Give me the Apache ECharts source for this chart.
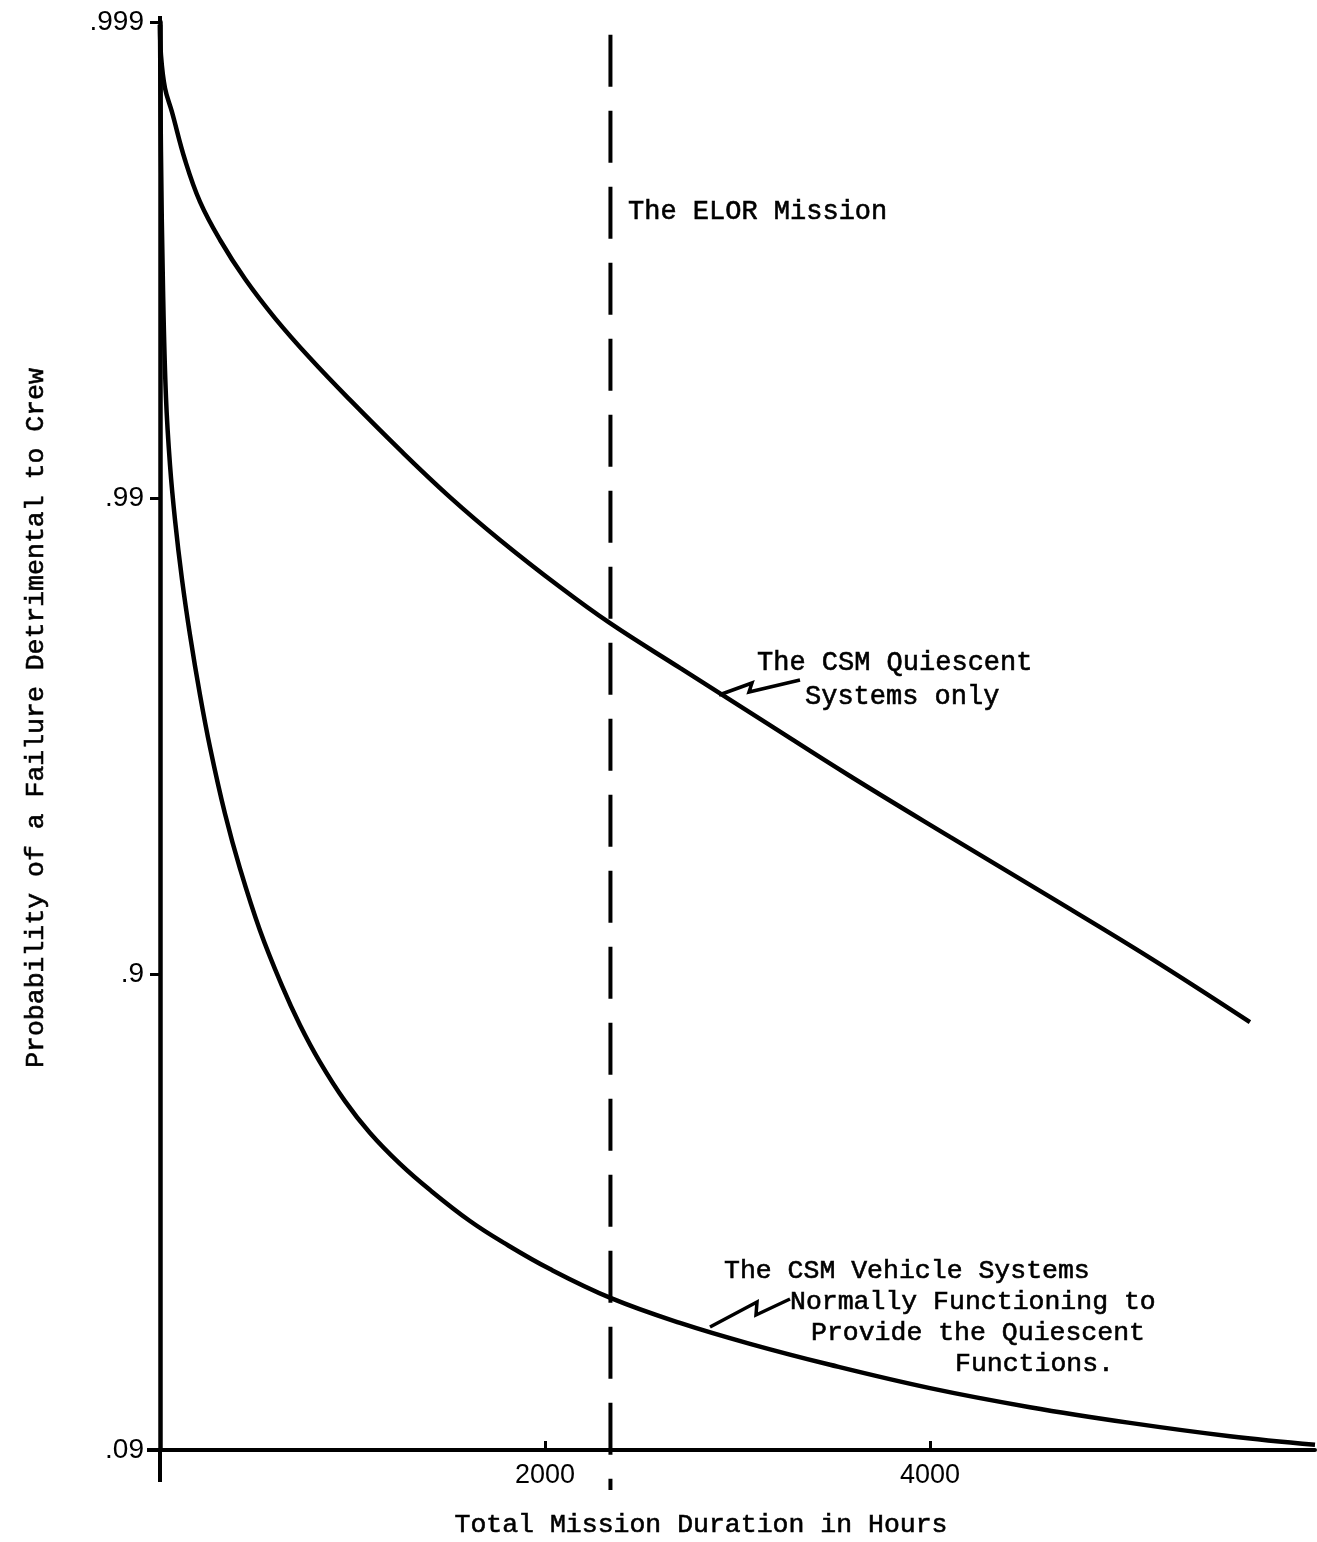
<!DOCTYPE html>
<html><head><meta charset="utf-8">
<script src="https://cdn.jsdelivr.net/npm/echarts@6/dist/echarts.min.js"></script>
<style>html,body{margin:0;padding:0;background:#fff;}#c{width:1317px;height:1542px;}</style>
</head><body><div id="c"></div>
<script>
// y axis: equally spaced probability levels (index 0..3)
const yTickLabels = ['.09', '.9', '.99', '.999'];
const xTickValues = [2000, 4000];
const elorHours = 2340;

// The CSM Quiescent Systems only
const quiescentHours = [0, 5, 26, 62, 130, 208, 312, 442, 597, 779, 987, 1247, 1506, 1766, 2078, 2338, 2701, 3117, 3584, 4104, 4623, 5143, 5662];
const quiescentLevel = [2.994, 2.931, 2.861, 2.811, 2.71, 2.622, 2.542, 2.46, 2.378, 2.294, 2.206, 2.101, 2.002, 1.912, 1.813, 1.737, 1.643, 1.536, 1.416, 1.288, 1.162, 1.034, 0.899];

// The CSM Vehicle Systems Normally Functioning to Provide the Quiescent Functions
const vehicleHours = [0, 5, 16, 31, 52, 78, 114, 156, 208, 260, 338, 416, 519, 634, 727, 831, 961, 1091, 1247, 1403, 1610, 1787, 2026, 2343, 2701, 3065, 3481, 4000, 4519, 5039, 5558, 6000];
const vehicleLevel = [2.994, 2.727, 2.433, 2.212, 2.069, 1.954, 1.83, 1.712, 1.586, 1.476, 1.336, 1.221, 1.092, 0.975, 0.893, 0.815, 0.733, 0.666, 0.601, 0.546, 0.481, 0.435, 0.38, 0.319, 0.267, 0.223, 0.179, 0.13, 0.09, 0.057, 0.029, 0.011];

(function () {
const mono = '"Liberation Mono", "DejaVu Sans Mono", monospace';
const sans = '"Liberation Sans", "DejaVu Sans", sans-serif';

const zip = (a, b) => a.map((v, i) => [v, b[i]]);

const chart = echarts.init(document.getElementById('c'), null, {renderer: 'canvas'});

const txt = (x, y, text, size, align, rot) => ({
  type: 'text', x: x, y: y, rotation: rot || 0,
  style: {text: text, font: size + 'px ' + mono, fill: '#000', stroke: '#000', lineWidth: 0.6,
    textAlign: align || 'left', textVerticalAlign: 'middle'}
});

const option = {
  animation: false,
  backgroundColor: '#fff',
  grid: {left: 160, right: 2, top: 22, bottom: 92},
  xAxis: {
    type: 'value', min: 0, max: 6000, interval: 2000,
    axisLine: {show: true, onZero: false, lineStyle: {color: '#000', width: 4}},
    axisTick: {show: true, customValues: xTickValues, inside: true, length: 9, lineStyle: {color: '#000', width: 3}},
    axisLabel: {show: true, customValues: xTickValues, color: '#000', fontFamily: sans, fontSize: 27, margin: 12,
      formatter: v => String(v)},
    splitLine: {show: false}
  },
  yAxis: {
    type: 'value', min: 0, max: 3, interval: 1,
    axisLine: {show: true, onZero: false, lineStyle: {color: '#000', width: 4.5}},
    axisTick: {show: true, length: 10, lineStyle: {color: '#000', width: 3}},
    axisLabel: {show: true, color: '#000', fontFamily: sans, fontSize: 28, margin: 16,
      formatter: v => yTickLabels[Math.round(v)]},
    splitLine: {show: false}
  },
  series: [
    {type: 'line', name: 'The CSM Quiescent Systems only', data: zip(quiescentHours, quiescentLevel),
      showSymbol: false, symbol: 'none', smooth: 0.4, lineStyle: {color: '#000', width: 4.5}},
    {type: 'line', name: 'The CSM Vehicle Systems', data: zip(vehicleHours, vehicleLevel),
      showSymbol: false, symbol: 'none', smooth: 0.4, lineStyle: {color: '#000', width: 4.5}},
    {type: 'line', name: 'The ELOR Mission', data: [[elorHours, 2.973], [elorHours, -0.084]],
      clip: false, showSymbol: false, symbol: 'none',
      lineStyle: {color: '#000', width: 4, type: [52, 24]}}
  ],
  graphic: [
    txt(701, 1525, 'Total Mission Duration in Hours', 26.5, 'center'),
    txt(36, 718, 'Probability of a Failure Detrimental to Crew', 26.5, 'center', Math.PI / 2),
    txt(628, 212, 'The ELOR Mission', 27),
    txt(757, 663, 'The CSM Quiescent', 27),
    txt(805, 697, 'Systems only', 27),
    txt(724, 1271, 'The CSM Vehicle Systems', 26.5),
    txt(790, 1302, 'Normally Functioning to', 26.5),
    txt(811, 1333, 'Provide the Quiescent', 26.5),
    txt(955, 1364, 'Functions.', 26.5),
    {type: 'polyline', shape: {points: [[719, 695], [752, 683], [749, 692], [800, 680]]},
      style: {stroke: '#000', lineWidth: 3.5, fill: null}},
    {type: 'polyline', shape: {points: [[710, 1327], [757, 1302], [756, 1315], [790, 1299]]},
      style: {stroke: '#000', lineWidth: 3.5, fill: null}}
  ]
};
chart.setOption(option);

// axis line extensions past the origin (as in the original drawing)
const o = chart.convertToPixel({gridIndex: 0}, [0, 0]);
const tp = chart.convertToPixel({gridIndex: 0}, [0, 3]);
chart.setOption({graphic: option.graphic.concat([
  {type: 'line', shape: {x1: o[0], y1: o[1], x2: o[0], y2: o[1] + 32}, style: {stroke: '#000', lineWidth: 4}},
  {type: 'line', shape: {x1: o[0] - 13, y1: o[1], x2: o[0], y2: o[1]}, style: {stroke: '#000', lineWidth: 4}},
  {type: 'line', shape: {x1: tp[0], y1: tp[1] - 6, x2: tp[0], y2: tp[1]}, style: {stroke: '#000', lineWidth: 4}}
])});
})();
</script>
</body></html>
